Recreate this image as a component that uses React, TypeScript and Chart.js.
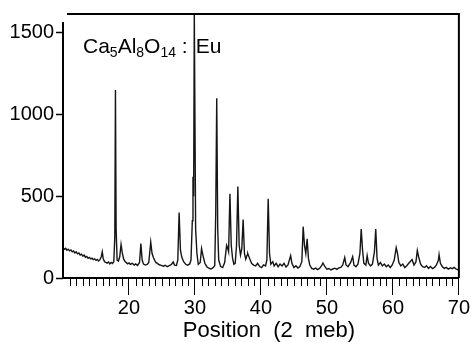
import { useEffect, useRef } from 'react';
import { Chart, registerables } from 'chart.js';

Chart.register(...registerables);

const FONT = '"Liberation Sans", Arial, Helvetica, sans-serif';

// 2θ positions (degrees)
const twoTheta = [
  10.0, 10.2, 10.4, 10.6, 10.8, 11.0, 11.2, 11.4, 11.6, 11.8,
  12.0, 12.2, 12.4, 12.6, 12.8, 13.0, 13.2, 13.4, 13.6, 13.8,
  14.0, 14.2, 14.4, 14.6, 14.8, 15.0, 15.2, 15.4, 15.6, 15.8,
  15.95, 16.1, 16.3, 16.5, 16.7, 16.9, 17.1, 17.3, 17.5, 17.7,
  17.85, 17.95, 18.05, 18.2, 18.4, 18.6, 18.8, 19.0, 19.2, 19.4,
  19.6, 19.8, 20.0, 20.2, 20.5, 20.8, 21.0, 21.3, 21.6, 21.8,
  22.0, 22.2, 22.5, 22.8, 23.0, 23.3, 23.5, 23.7, 23.9, 24.1,
  24.3, 24.6, 24.9, 25.2, 25.5, 25.8, 26.1, 26.4, 26.7, 26.9,
  27.2, 27.4, 27.6, 27.8, 28.0, 28.3, 28.6, 28.9, 29.2, 29.4,
  29.6, 29.7, 29.8, 29.9, 30.0, 30.1, 30.3, 30.5, 30.8, 31.0,
  31.2, 31.5, 31.8, 32.1, 32.4, 32.7, 33.0, 33.15, 33.3, 33.45,
  33.6, 33.9, 34.2, 34.5, 34.8, 34.9, 35.1, 35.3, 35.5, 35.7,
  35.9, 36.1, 36.3, 36.5, 36.7, 36.9, 37.1, 37.3, 37.5, 37.7,
  37.9, 38.0, 38.3, 38.6, 38.9, 39.2, 39.5, 39.8, 40.1, 40.4,
  40.7, 40.9, 41.1, 41.3, 41.5, 41.8, 42.0, 42.3, 42.6, 42.9,
  43.2, 43.5, 43.8, 44.1, 44.5, 44.7, 45.0, 45.3, 45.6, 45.9,
  46.2, 46.4, 46.6, 46.8, 47.0, 47.2, 47.4, 47.7, 48.0, 48.3,
  48.6, 48.9, 49.2, 49.4, 49.7, 50.0, 50.3, 50.6, 50.9, 51.2,
  51.5, 51.8, 52.1, 52.4, 52.7, 52.9, 53.2, 53.6, 53.9, 54.1,
  54.4, 54.7, 55.0, 55.2, 55.4, 55.6, 55.9, 56.1, 56.3, 56.6,
  56.9, 57.2, 57.4, 57.6, 57.8, 58.1, 58.4, 58.7, 59.0, 59.3,
  59.6, 59.9, 60.2, 60.5, 60.7, 60.9, 61.2, 61.5, 61.8, 62.1,
  62.4, 62.9, 63.2, 63.5, 63.7, 63.9, 64.2, 64.5, 64.8, 65.1,
  65.4, 65.7, 66.0, 66.3, 66.6, 66.9, 67.0, 67.2, 67.5, 67.8,
  68.1, 68.4, 68.7, 69.0, 69.3, 69.6, 70.0,
];

// intensity (counts) at each position
const counts = [
  185, 176, 182, 170, 176, 166, 172, 160, 165, 153,
  160, 148, 153, 141, 146, 134, 140, 127, 132, 121,
  126, 117, 121, 112, 117, 108, 114, 104, 112, 130,
  160, 118, 100, 95, 91, 98, 86, 95, 89, 100,
  250, 1150, 300, 110, 104, 130, 205, 150, 115, 100,
  94, 87, 92, 83, 90, 79, 86, 77, 95, 210,
  110, 85, 79, 84, 95, 220, 150, 125, 108, 94,
  89, 81, 77, 72, 78, 69, 76, 82, 98, 79,
  77, 110, 400, 170, 128, 98, 84, 78, 86, 110,
  350, 620, 500, 1620, 1620, 300, 150, 84, 95, 180,
  140, 90, 69, 60, 55, 62, 75, 400, 1100, 300,
  110, 70, 64, 95, 200, 190, 160, 515, 200, 120,
  84, 90, 200, 560, 200, 140, 180, 357, 150, 115,
  140, 150, 118, 89, 79, 74, 90, 70, 64, 80,
  74, 110, 485, 150, 84, 100, 74, 90, 69, 85,
  74, 90, 67, 80, 137, 90, 64, 75, 61, 70,
  100, 314, 200, 150, 240, 120, 79, 59, 54, 60,
  51, 60, 75, 92, 69, 54, 58, 49, 55, 60,
  53, 62, 65, 80, 125, 80, 69, 95, 131, 79,
  69, 85, 150, 300, 170, 90, 79, 137, 90, 74,
  85, 160, 300, 120, 79, 95, 74, 85, 69, 80,
  64, 80, 110, 186, 150, 95, 74, 85, 64, 75,
  90, 113, 79, 100, 168, 130, 85, 69, 64, 75,
  59, 70, 57, 65, 80, 110, 143, 90, 69, 59,
  65, 54, 62, 57, 65, 54, 50,
];

const xMajorTicks = [20, 30, 40, 50, 60, 70];
const yTicks = [0, 500, 1000, 1500];
const xRange = [10, 70];
const yRange = [0, 1615];
const xTitle = 'Position  (2  meb)';
const sampleParts = [
  { t: 'Ca', sub: false, gap: 0 },
  { t: '5', sub: true, gap: 0 },
  { t: 'Al', sub: false, gap: 0 },
  { t: '8', sub: true, gap: 0 },
  { t: 'O', sub: false, gap: 0 },
  { t: '14', sub: true, gap: 0 },
  { t: ' :', sub: false, gap: 0 },
  { t: 'Eu', sub: false, gap: 8 },
];

const framePlugin = {
  id: 'frame',
  afterDraw(chart: any) {
    const { ctx, chartArea } = chart;
    const { left, right, top, bottom } = chartArea;
    const xs = chart.scales.x;
    ctx.save();
    ctx.strokeStyle = '#000';
    ctx.lineCap = 'butt';
    // left axis line
    ctx.lineWidth = 2;
    ctx.beginPath();
    ctx.moveTo(left, top + 8);
    ctx.lineTo(left, bottom + 1);
    ctx.stroke();
    // top line
    ctx.beginPath();
    ctx.moveTo(left + 4, top);
    ctx.lineTo(right + 1, top);
    ctx.stroke();
    // right line
    ctx.beginPath();
    ctx.moveTo(right, top);
    ctx.lineTo(right, bottom);
    ctx.stroke();
    // minor ticks every degree
    ctx.lineWidth = 1;
    for (let v = xRange[0] + 1; v < xRange[1]; v++) {
      if (v % 10 === 0) continue;
      const px = Math.round(xs.getPixelForValue(v)) + 0.5;
      ctx.beginPath();
      ctx.moveTo(px, bottom);
      ctx.lineTo(px, bottom + 8);
      ctx.stroke();
    }
    // axis title
    ctx.fillStyle = '#000';
    ctx.font = `22px ${FONT}`;
    ctx.textAlign = 'center';
    ctx.textBaseline = 'alphabetic';
    ctx.fillText(xTitle, (left + right) / 2 + 8, 337);
    // sample label
    ctx.textAlign = 'left';
    let x = left + 20;
    const base = top + 39;
    for (const p of sampleParts) {
      x += p.gap;
      ctx.font = p.sub ? `14px ${FONT}` : `21px ${FONT}`;
      ctx.fillText(p.t, x, p.sub ? base + 4 : base);
      x += ctx.measureText(p.t).width;
    }
    ctx.restore();
  },
};

export default function App() {
  const ref = useRef<HTMLCanvasElement>(null);
  useEffect(() => {
    if (!ref.current) return;
    const points = twoTheta.map((x, i) => ({ x, y: counts[i] }));
    const chart = new Chart(ref.current, {
      type: 'line',
      data: {
        datasets: [
          {
            data: points,
            borderColor: '#151515',
            borderWidth: 1.4,
            pointRadius: 0,
            tension: 0,
          },
        ],
      },
      options: {
        animation: false,
        responsive: false,
        events: [],
        layout: { padding: { top: 14, right: 12, left: 0, bottom: 0 } },
        plugins: { legend: { display: false }, tooltip: { enabled: false } },
        scales: {
          x: {
            type: 'linear',
            min: xRange[0],
            max: xRange[1],
            afterBuildTicks: (s: any) => {
              s.ticks = xMajorTicks.map((v) => ({ value: v }));
            },
            afterFit: (s: any) => {
              s.height = 64;
            },
            ticks: {
              font: { size: 20, family: FONT },
              color: '#000',
              padding: 1,
              maxRotation: 0,
              autoSkip: false,
              callback: (v: any) => String(v),
            },
            grid: {
              drawOnChartArea: false,
              tickLength: 17,
              tickColor: '#000',
              tickWidth: 1,
            },
            border: { display: true, color: '#000', width: 2 },
          },
          y: {
            type: 'linear',
            min: yRange[0],
            max: yRange[1],
            afterBuildTicks: (s: any) => {
              s.ticks = yTicks.map((v) => ({ value: v }));
            },
            afterFit: (s: any) => {
              s.width = 63;
            },
            ticks: {
              font: { size: 20, family: FONT },
              color: '#000',
              padding: 2,
              autoSkip: false,
              callback: (v: any) => String(v),
            },
            grid: {
              drawOnChartArea: false,
              tickLength: 7,
              tickColor: '#000',
              tickWidth: 1.5,
            },
            border: { display: false },
          },
        },
      },
      plugins: [framePlugin],
    });
    return () => chart.destroy();
  }, []);
  return (
    <div style={{ position: 'absolute', left: 0, top: 0, width: 471, height: 342, background: '#fff' }}>
      <canvas ref={ref} width={471} height={342} />
    </div>
  );
}
